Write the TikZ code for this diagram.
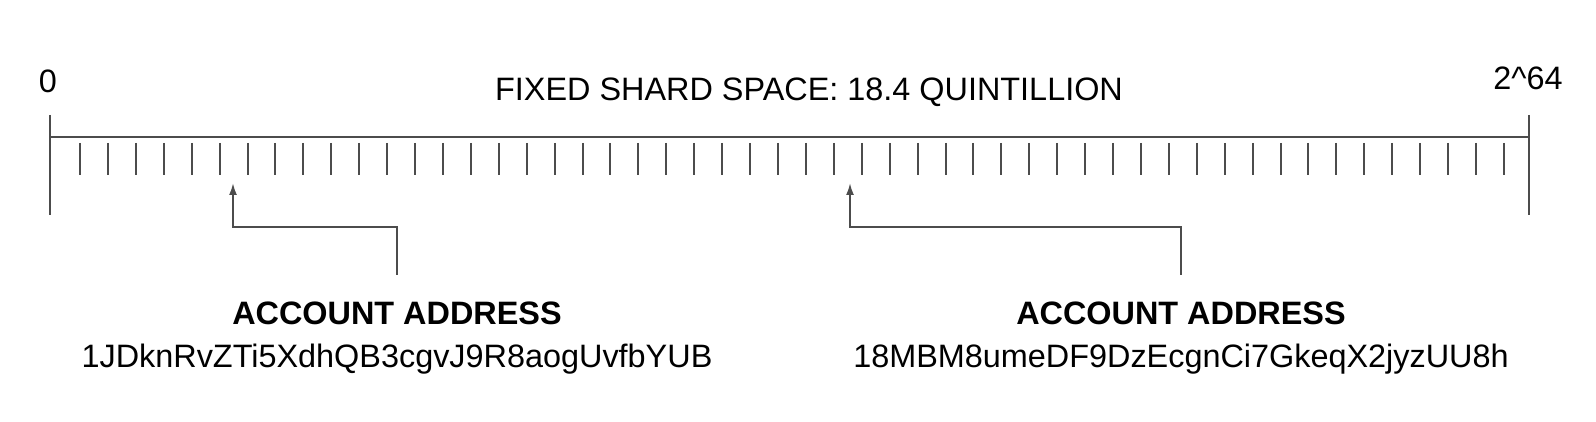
\documentclass[tikz,border=0pt]{standalone}
\usepackage{fontspec}
\setmainfont{Liberation Sans}
\usetikzlibrary{arrows.meta}
\begin{document}
\begin{tikzpicture}[x=0.5pt,y=-0.5pt]
\tikzstyle{lbl} = [inner sep=0pt, anchor=base, font=\fontsize{16.2}{19}\selectfont]
\tikzstyle{hdr} = [lbl, font=\fontsize{16.2}{19}\selectfont\bfseries]
\tikzstyle{ln} = [draw=black!70, line width=1pt]
\tikzstyle{arr} = [ln, -{Latex[length=6pt,width=4pt]}]

\useasboundingbox (0,0) rectangle (1596,422);

% scale
\coordinate (L) at (50,137.5);
\coordinate (R) at (1529,137.5);
\draw[ln] (L) -- (R);
\draw[ln] (50,115) -- (50,215);
\draw[ln] (1529,115) -- (1529,215);
\foreach \i in {0,...,51}
  \draw[ln] ({80+\i*27.92},143) -- ++(0,32);

\node[lbl] (zero) at (48,93) {0};
\node[lbl] (top) at (1528,90) {2\^{}64};
\node[lbl] (title) at (809,101) {FIXED SHARD SPACE: 18.4 QUINTILLION};

% addresses
\node[hdr] (h1) at (397,325) {ACCOUNT ADDRESS};
\node[lbl] (a1) at (397,367) {1JDknRvZTi5XdhQB3cgvJ9R8aogUvfbYUB};
\node[hdr] (h2) at (1181,325) {ACCOUNT ADDRESS};
\node[lbl] (a2) at (1181,367) {18MBM8umeDF9DzEcgnCi7GkeqX2jyzUU8h};

\coordinate (b1) at (397,275);
\coordinate (t1) at (233,183);
\coordinate (b2) at (1181,275);
\coordinate (t2) at (850,183);
\draw[arr] (b1) -- ++(0,-48) -| (t1);
\draw[arr] (b2) -- ++(0,-48) -| (t2);
\end{tikzpicture}
\end{document}
